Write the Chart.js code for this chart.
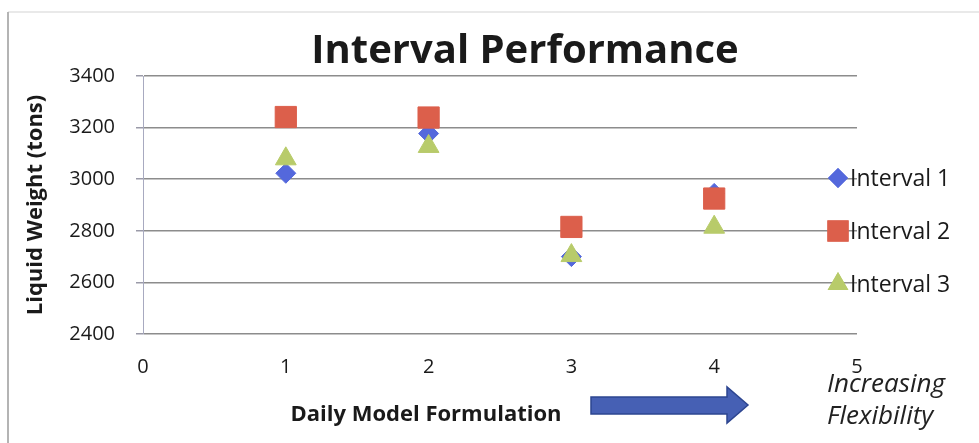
<!DOCTYPE html>
<html>
<head>
<meta charset="utf-8">
<script src="https://cdn.jsdelivr.net/npm/chart.js@4/dist/chart.umd.min.js"></script>
<style>
  html, body { margin: 0; padding: 0; background: #fff; }
  #wrap { width: 979px; height: 443px; position: relative; }
</style>
</head>
<body>
<div id="wrap"><canvas id="myChart" width="979" height="443"></canvas></div>
<script>
// DATA
const formulations = [1, 2, 3, 4];
const interval1 = [3023, 3177, 2700, 2945];
const interval2 = [3241, 3239, 2815, 2925];
const interval3 = [3079, 3127, 2704, 2814];
const seriesNames = ["Interval 1", "Interval 2", "Interval 3"];
const yTicks = [2400, 2600, 2800, 3000, 3200, 3400];
const xTicks = [0, 1, 2, 3, 4, 5];

const FONT = "'Open Sans', sans-serif";

function toPoints(values) {
  return formulations.map((x, i) => ({ x: x, y: values[i] }));
}

// extra drawing: frame, title, x title, arrow, legend
const decorations = {
  id: "decorations",
  beforeDraw(chart) {
    const ctx = chart.ctx;
    ctx.save();
    ctx.strokeStyle = "#e2e2e2";
    ctx.lineWidth = 1.5;
    ctx.beginPath();
    ctx.moveTo(8, 12);
    ctx.lineTo(979, 12);
    ctx.stroke();
    ctx.strokeStyle = "#b4b4b4";
    ctx.lineWidth = 2;
    ctx.beginPath();
    ctx.moveTo(8, 12);
    ctx.lineTo(8, 443);
    ctx.stroke();
    ctx.restore();
  },
  afterDraw(chart) {
    const ctx = chart.ctx;
    ctx.save();

    // title
    ctx.fillStyle = "#1a1a1a";
    ctx.font = "bold 40px " + FONT;
    ctx.textAlign = "center";
    ctx.textBaseline = "alphabetic";
    ctx.fillText("Interval Performance", 525, 63);

    // x axis title
    ctx.font = "bold 22px " + FONT;
    ctx.fillText("Daily Model Formulation", 426, 421);

    // arrow
    ctx.fillStyle = "#4660b4";
    ctx.strokeStyle = "#2d4590";
    ctx.lineWidth = 1.5;
    ctx.beginPath();
    ctx.moveTo(591, 397);
    ctx.lineTo(727, 397);
    ctx.lineTo(727, 387);
    ctx.lineTo(748, 405);
    ctx.lineTo(727, 423);
    ctx.lineTo(727, 414);
    ctx.lineTo(591, 414);
    ctx.closePath();
    ctx.fill();
    ctx.stroke();

    // side note
    ctx.fillStyle = "#222";
    ctx.font = "italic 26px " + FONT;
    ctx.textAlign = "left";
    ctx.fillText("Increasing", 827, 392);
    ctx.fillText("Flexibility", 827, 424);

    // legend
    const legendY = [178, 231, 284];
    ctx.font = "23px " + FONT;
    ctx.textBaseline = "middle";
    chart.data.datasets.forEach((ds, i) => {
      const y = legendY[i];
      ctx.fillStyle = ds.backgroundColor;
      Chart.helpers.drawPoint(ctx, {
        pointStyle: ds.pointStyle,
        radius: ds.pointRadius,
        rotation: 0,
        borderWidth: 0
      }, 838, y);
      ctx.fill();
      ctx.fillStyle = "#1a1a1a";
      ctx.fillText(ds.label, 850, y + 1);
    });

    ctx.restore();
  }
};

const ctxOne = document.getElementById("myChart");

new Chart(ctxOne, {
  type: "scatter",
  data: {
    datasets: [
      {
        label: seriesNames[0],
        data: toPoints(interval1),
        backgroundColor: "#5468dc",
        borderColor: "#5468dc",
        pointStyle: "rectRot",
        pointRadius: 10,
        pointHoverRadius: 10,
        order: 2,
      },
      {
        label: seriesNames[1],
        data: toPoints(interval2),
        backgroundColor: "#dc5f4b",
        borderColor: "#dc5f4b",
        pointStyle: "rect",
        pointRadius: 15,
        pointHoverRadius: 15,
        order: 1,
      },
      {
        label: seriesNames[2],
        data: toPoints(interval3),
        backgroundColor: "#b8cb6a",
        borderColor: "#b8cb6a",
        pointStyle: "triangle",
        pointRadius: 12,
        pointHoverRadius: 12,
        order: 0,
      },
    ],
  },
  options: {
    responsive: false,
    animation: false,
    layout: {
      padding: { left: 10, right: 122, top: 76, bottom: 0 },
    },
    plugins: {
      legend: { display: false },
      title: { display: false },
      tooltip: { enabled: false },
    },
    scales: {
      x: {
        type: "linear",
        min: xTicks[0],
        max: xTicks[xTicks.length - 1],
        afterBuildTicks(scale) {
          scale.ticks = xTicks.map((v) => ({ value: v }));
        },
        afterFit(scale) {
          scale.height = 109;
        },
        grid: { display: false, drawTicks: false },
        border: { display: false },
        ticks: {
          padding: 21,
          color: "#1a1a1a",
          font: { family: FONT, size: 20 },
        },
      },
      y: {
        min: yTicks[0],
        max: yTicks[yTicks.length - 1],
        afterBuildTicks(scale) {
          scale.ticks = yTicks.map((v) => ({ value: v }));
        },
        afterFit(scale) {
          scale.width = 133;
        },
        grid: {
          color: "#8c8c8c",
          lineWidth: 1.5,
          tickLength: 7,
          tickColor: "#9a9aa8",
        },
        border: { display: true, color: "#a8aac0", width: 1 },
        ticks: {
          padding: 21,
          color: "#1a1a1a",
          font: { family: FONT, size: 20 },
          callback: (v) => String(v),
        },
        title: {
          display: true,
          text: "Liquid Weight (tons)",
          color: "#1a1a1a",
          padding: 13,
          font: { family: FONT, size: 22, weight: "bold" },
        },
      },
    },
  },
  plugins: [decorations],
});
</script>
</body>
</html>
